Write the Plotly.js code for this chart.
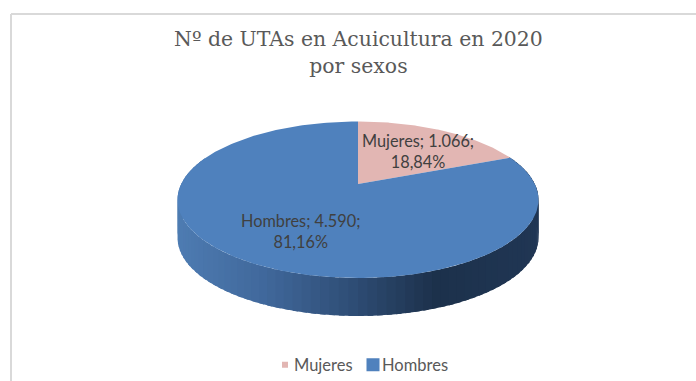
<!DOCTYPE html>
<html><head><meta charset="utf-8">
<script src="https://cdn.plot.ly/plotly-3.0.1.min.js"></script>
<style>html,body{margin:0;padding:0;background:#fff}#c{width:696px;height:381px}</style>
</head><body><div id="c"></div>
<script>
const categories = ["Mujeres", "Hombres"];
const values = [1066, 4590];
const valueLabels = ["1.066", "4.590"];
const percentLabels = ["18,84%", "81,16%"];
const sliceColors = ["#e2b6b3", "#4f81bd"];

// Projection of the flat pie disc onto the page (3D perspective view)
const apexX = 358, apexY = 184, d = 176.8, a = 75.08, c = 0.2013, depth = 38;
const project = (theta) => {
  const u = Math.sin(theta), v = Math.cos(theta), w = 1 + c * v;
  return [apexX + d * u / w, apexY - a * v / w];
};
const arc = (t0, t1, n) => {
  const xs = [], ys = [];
  for (let i = 0; i <= n; i++) {
    const p = project(t0 + (t1 - t0) * i / n);
    xs.push(p[0]); ys.push(p[1]);
  }
  return [xs, ys];
};
const total = values.reduce((s, v) => s + v, 0);
const traces = [];

// Wall: the front rim of the Hombres slice, shaded left to right
const lerp = (p, q, t) => p.map((x, i) => Math.round(x + (q[i] - x) * t));
const stops = [[0, [78,124,178]], [0.25, [64,104,155]], [0.5, [46,76,116]], [0.72, [28,49,75]], [1, [32,54,84]]];
const shade = (t) => {
  for (let i = 1; i < stops.length; i++) if (t <= stops[i][0]) {
    const f = (t - stops[i-1][0]) / (stops[i][0] - stops[i-1][0]);
    return "rgb(" + lerp(stops[i-1][1], stops[i][1], f).join(",") + ")";
  }
  return "rgb(32,54,84)";
};
const leftX = apexX - 180.5, rightX = apexX + 180.5;
const N = 90, tA = Math.PI * 1.62, tB = Math.PI * 0.38;
for (let i = 0; i < N; i++) {
  const t0 = tA - (tA - tB) * i / N, t1 = tA - (tA - tB) * (i + 1.6) / N;
  const [xs, ys] = arc(t0, t1, 3);
  const bx = xs.slice().reverse(), by = ys.map(y => y + depth).reverse();
  const mid = (xs[0] + xs[3]) / 2;
  traces.push({type: "scatter", mode: "lines", x: xs.concat(bx, [xs[0]]), y: ys.concat(by, [ys[0]]),
    fill: "toself", fillcolor: shade((mid - leftX) / (rightX - leftX)),
    line: {width: 0}, showlegend: false, hoverinfo: "skip"});
}

// Top face: one polygon per slice, angles from the values
let cum = 0;
categories.forEach((name, i) => {
  const t0 = cum / total * 2 * Math.PI;
  cum += values[i];
  const t1 = cum / total * 2 * Math.PI;
  const [xs, ys] = arc(t0, t1, 240);
  traces.push({type: "scatter", mode: "lines", name,
    x: [apexX].concat(xs, [apexX]), y: [apexY].concat(ys, [apexY]),
    fill: "toself", fillcolor: sliceColors[i], line: {width: 0, color: sliceColors[i]},
    showlegend: false, hoverinfo: "name"});
});

// Legend entries
const legendSizes = [6, 13];
categories.forEach((name, i) => traces.push({type: "scatter", mode: "markers", name,
  x: [-50], y: [-50], marker: {symbol: "square", size: legendSizes[i], color: sliceColors[i]},
  showlegend: true, hoverinfo: "skip"}));

const labelPos = [[417.5, 151], [300.5, 231]];
const annotations = categories.map((name, i) => ({
  x: labelPos[i][0], y: labelPos[i][1], xref: "x", yref: "y", showarrow: false, align: "center",
  text: name + "; " + valueLabels[i] + ";<br>" + percentLabels[i],
  font: {family: "Lato, 'Open Sans', sans-serif", size: 16.3, color: "#404040"}
}));

const layout = {
  width: 696, height: 381, margin: {l: 0, r: 0, t: 0, b: 0, autoexpand: false},
  paper_bgcolor: "#fff", plot_bgcolor: "#fff",
  xaxis: {range: [0, 696], visible: false, fixedrange: true},
  yaxis: {range: [381, 0], visible: false, fixedrange: true},
  title: {text: "Nº de UTAs en Acuicultura en 2020<br>por sexos", x: 0.515, xanchor: "center", y: 0.878, yanchor: "middle",
    font: {family: "'DejaVu Serif', serif", size: 20.4, color: "#595959"}},
  legend: {orientation: "h", x: 0.515, xanchor: "center", y: 0.042, yanchor: "middle",
    font: {family: "Lato, 'Open Sans', sans-serif", size: 16.5, color: "#595959"}, itemwidth: 30},
  annotations,
  shapes: [
    {type: "line", xref: "x", yref: "y", x0: 11, x1: 696, y0: 14, y1: 14, line: {color: "#d9d9d9", width: 2}},
    {type: "line", xref: "x", yref: "y", x0: 11, x1: 11, y0: 14, y1: 381, line: {color: "#d9d9d9", width: 2}}
  ]
};
const legendTextLeft = [294, 382];
Plotly.newPlot("c", traces, layout, {displayModeBar: false, staticPlot: true}).then(() => {
  // the legend's fixed item width spaces its entries wider than the reference: nudge them in place
  document.querySelectorAll("#c .legend .legendpoints").forEach(g => g.setAttribute("transform", "translate(11,0)"));
  document.querySelectorAll("#c .legend .traces").forEach((g, i) => {
    const t = g.querySelector(".legendtext").getBoundingClientRect().left;
    const m = /translate\(([-\d.]+)[ ,]+([-\d.]+)\)/.exec(g.getAttribute("transform"));
    g.setAttribute("transform", "translate(" + (parseFloat(m[1]) + legendTextLeft[i] - t) + "," + m[2] + ")");
  });
});
</script></body></html>
